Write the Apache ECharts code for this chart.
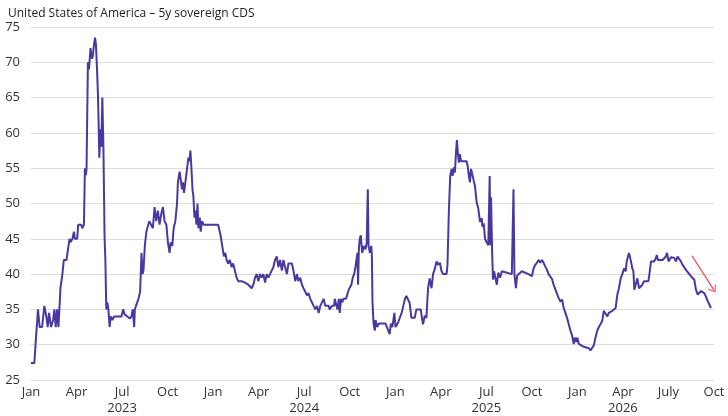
<!DOCTYPE html>
<html>
<head>
<meta charset="utf-8">
<script src="https://cdn.jsdelivr.net/npm/echarts@6/dist/echarts.min.js"></script>
<style>
html,body{margin:0;padding:0;background:#fff;}
#chart{width:728px;height:416px;}
</style>
</head>
<body>
<div id="chart"></div>
<script>
// months counted from Jan 2023 (0) to Oct 2026 (45)
var months = [
0,0.22,0.33,0.46,0.57,0.73,0.88,1.01,1.1,1.19,1.32,1.46,1.54,1.63,1.72,1.81,1.87,1.94,2.07,2.16,
2.34,2.47,2.54,2.6,2.73,2.83,2.89,3.04,3.11,3.31,3.38,3.49,3.55,3.62,3.66,3.75,3.82,3.92,4.02,4.08,
4.15,4.22,4.28,4.35,4.41,4.46,4.5,4.57,4.63,4.7,4.77,4.85,4.9,4.96,5.03,5.1,5.18,5.25,5.36,5.47,
5.69,5.96,6.07,6.17,6.35,6.5,6.62,6.7,6.8,6.84,6.97,7.08,7.19,7.28,7.35,7.41,7.5,7.6,7.72,7.79,
8.03,8.14,8.25,8.36,8.47,8.58,8.69,8.8,8.92,9.02,9.13,9.2,9.31,9.4,9.51,9.62,9.68,9.79,9.88,9.95,
10.01,10.08,10.17,10.28,10.37,10.44,10.5,10.57,10.64,10.7,10.77,10.83,10.9,10.97,11.03,11.12,11.18,11.27,11.38,11.56,
12.33,12.49,12.62,12.71,12.8,12.89,12.99,13.1,13.22,13.32,13.43,13.55,13.65,13.88,14.1,14.32,14.43,14.54,14.65,14.76,
14.87,14.98,15.09,15.2,15.31,15.42,15.53,15.64,15.75,15.86,15.97,16.08,16.19,16.3,16.41,16.53,16.63,16.74,16.86,16.96,
17.07,17.19,17.29,17.41,17.52,17.62,17.74,17.85,17.95,18.07,18.18,18.29,18.4,18.51,18.62,18.73,18.84,18.95,19.06,19.17,
19.28,19.39,19.61,19.68,19.83,19.97,20.01,20.12,20.19,20.28,20.34,20.43,20.5,20.6,20.76,20.89,20.98,21.11,21.2,21.29,
21.38,21.44,21.51,21.55,21.6,21.66,21.73,21.82,21.93,22.04,22.12,22.19,22.24,22.33,22.42,22.46,22.5,22.57,22.65,22.7,
22.81,22.92,23.14,23.36,23.47,23.54,23.63,23.71,23.81,23.94,24.02,24.16,24.29,24.42,24.53,24.64,24.73,24.84,24.95,25.06,
25.28,25.39,25.68,25.77,25.83,25.94,26.05,26.16,26.27,26.39,26.49,26.6,26.72,26.82,26.94,27.05,27.15,27.38,27.44,27.53,
27.62,27.71,27.78,27.86,27.93,28.0,28.06,28.13,28.19,28.26,28.33,28.7,28.77,28.85,28.92,28.99,29.07,29.17,29.25,29.36,
29.47,29.58,29.7,29.74,29.83,29.91,30.02,30.13,30.22,30.27,30.31,30.38,30.44,30.51,30.58,30.69,30.79,30.91,31.02,31.13,
31.68,31.79,31.85,31.95,32.03,32.12,32.34,32.45,32.78,33.0,33.11,33.22,33.33,33.44,33.55,33.67,33.77,33.88,34.0,34.1,
34.22,34.33,34.43,34.55,34.66,34.77,34.88,34.99,35.1,35.21,35.32,35.43,35.54,35.65,35.76,35.82,35.92,36.0,36.09,36.2,
36.42,36.53,36.75,36.86,36.98,37.08,37.19,37.31,37.41,37.52,37.64,37.74,37.86,37.97,38.07,38.19,38.3,38.4,38.52,38.63,
38.74,38.85,38.96,39.07,39.18,39.25,39.33,39.4,39.46,39.53,39.62,39.69,39.75,39.84,39.95,40.06,40.17,40.28,40.39,40.68,
40.77,40.85,40.95,41.05,41.16,41.23,41.3,41.61,41.72,41.83,41.91,42.0,42.09,42.18,42.38,42.49,42.6,42.71,42.82,42.93,
43.04,43.15,43.26,43.48,43.7,43.81,43.93,44.03,44.14,44.25,44.36,44.47,44.58,44.69,44.8
];
var cds = [
27.4,27.4,31,35,32.5,32.5,35.5,34,32.5,34.5,32.5,33.5,35,32.5,35,32.5,35,38,40,42,
42,44,45,44.5,45,46,45,45,47,47,46.5,47,55,54,55,70,69,72,70.5,71,
72.5,73.5,72.5,69,65.5,61,56.5,60.5,58,65,58,45,42,35,36,35,32.5,34,33.5,34,
34,34,35,34.3,34,33.7,34,35,32.5,35,35,36.5,37.5,43,40,40.5,44,46,46,47.5,
46.5,49.5,47.5,49,47,48.5,49.5,47.5,47,44.5,43,44.5,44,46.5,47.5,50,53,54.5,54.5,52,
53,51.5,53,53,56.5,56,57.5,55,52,51,48,49,47,50,46.5,48,46,47.5,47,47,
47,45.5,45.5,42.5,43,42,41.5,42,41,41.5,40.5,39.5,39,39,38.8,38.5,38.7,38,38.5,39.5,
40,39,40,39.5,40,38.8,40,39.5,40,40,41,42,42.5,41,42,40.5,42,41,40,41.5,
41.5,41.5,40.5,39,40,39,39.5,38.5,38,37.5,37,37.3,36.5,36,35.5,35,35.5,34.5,35.5,35.5,
36.5,35.5,35.5,35,35.5,35.5,36.5,36.5,35,36.5,34.5,36.5,36,36.5,36.5,37.5,38,38.5,39.5,40,
41,42,43,38.5,43.5,45,45.5,43,44,43.5,44.5,52,44,43,44,42.5,36,33,32,33.5,
32.5,33,33,33,33,32,31.5,33,32.5,34.5,32.5,33,33,34.5,35.5,36.5,36.9,36.4,35.9,33.8,
33.8,35,35,33.6,32.9,34.1,33.8,38,39.4,38,40,40.7,41.8,41.3,41.6,40.4,40,40,41.3,48.8,
53.9,54.9,53.9,55.1,54.4,57.2,59,57,55.8,57,56,56,55.3,53.9,53,54.9,54.2,53.2,52.5,50.2,
49.3,47.4,47.9,46.7,47.2,45,44.5,44.1,53.9,44.1,50.9,43.2,39.2,40.4,40.2,38.5,40.2,39.5,40.4,40.2,
40,52,40,38,39.8,40,40.4,40.2,40,39.7,40.8,41.3,41.6,42,41.6,42,41.6,41.1,40.6,40,
40,39.3,38.5,37.8,38,36.6,36.1,36.4,35.2,34.5,33.8,32.9,32,31.3,30.1,31,30.4,31,30.1,29.9,
29.7,29.5,29.5,29.2,29.4,29.9,31,32,32.5,32.9,33.4,34.8,35,34,34.5,34.3,34.8,35,35.2,37.1,
38,39.4,40,40.8,40.4,41.8,42.5,43,42.8,41.8,40.8,40.4,37.8,38.5,39.4,38,37.8,38.5,39,39,
40.4,41.8,42,41.8,42.2,42.7,42,42,41.8,42.5,43,41.8,41.8,42.4,42.3,41.8,42.5,42.3,41.8,41.3,
41.1,40.6,40.4,39.7,39.2,37.8,37.1,37.3,37.6,37.8,37.3,36.8,36.2,35.7,35.2
];
// quarter tick labels, one per 3 months
var tickLabels = ['Jan','Apr','Jul\n2023','Oct','Jan','Apr','Jul\n2024','Oct',
                  'Jan','Apr','Jul\n2025','Oct','Jan','Apr\n2026','July','Oct'];
// annotation arrow (month, value)
var arrowFrom = [43.55, 42.6];
var arrowTo = [44.98, 37.8];

var points = [];
for (var i = 0; i < months.length; i++) {
	points.push([months[i], cds[i]]);
}

var chart = echarts.init(document.getElementById('chart'));
var option = {
	animation: false,
	textStyle: {fontFamily: 'Open Sans'},
	title: {
		text: 'United States of America \u2013 5y sovereign CDS',
		left: 3, top: 3,
		textStyle: {fontSize: 12, fontWeight: 'normal', color: '#222', fontFamily: 'Open Sans'}
	},
	grid: {left: 31, right: 14, top: 27, bottom: 33},
	xAxis: {
		type: 'value', min: 0, max: 45, interval: 3,
		axisLine: {show: false}, axisTick: {show: false}, splitLine: {show: false},
		axisLabel: {
			color: '#333', fontSize: 13, lineHeight: 16, margin: 4,
			formatter: function (v) {
				var k = Math.round(v / 3);
				return Math.abs(v - k * 3) < 0.01 ? (tickLabels[k] || '') : '';
			}
		}
	},
	yAxis: {
		type: 'value', min: 25, max: 75, interval: 5,
		axisLine: {show: false}, axisTick: {show: false},
		splitLine: {lineStyle: {color: '#dcdcdc', width: 1}},
		axisLabel: {color: '#333', fontSize: 13, margin: 11}
	},
	series: [{
		type: 'line',
		data: points,
		showSymbol: false,
		lineStyle: {color: '#4a38a0', width: 2},
		markLine: {
			silent: true,
			symbol: ['none', 'path://M0,10 L10,0 L20,10 L17.5,10 L10,3 L2.5,10 Z'],
			symbolSize: [10, 7],
			label: {show: false},
			lineStyle: {color: '#e8525f', width: 1.3, type: 'solid'},
			data: [[{coord: arrowFrom}, {coord: arrowTo}]]
		}
	}]
};
chart.setOption(option);
</script>
</body>
</html>
